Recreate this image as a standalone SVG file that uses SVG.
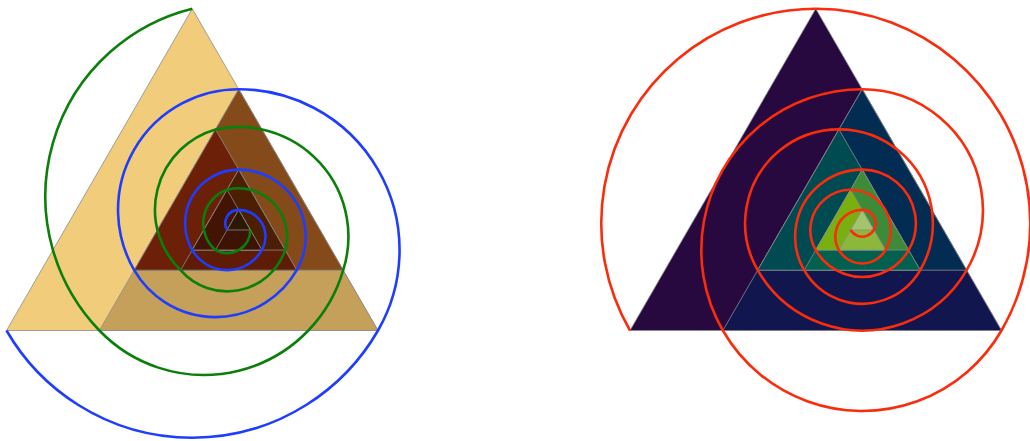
<svg xmlns="http://www.w3.org/2000/svg" width="1030" height="441" viewBox="0 0 1030 441">
<style>
  .tri { stroke: #8c8c8c; stroke-width: 0.8; stroke-linejoin: miter; }
  .sp { fill: none; stroke-width: 2.6; }
  .green { stroke: #0a7f0a; }
  .blue { stroke: #1f3dff; }
  .red { stroke: #fa2c0c; }
</style>
<rect width="1030" height="441" fill="#ffffff"/>
<g id="left-figure">
  <g id="left-triangles">
    <polygon id="L0" class="tri" fill="#f1cd7b" points="6.5,330.5 378,330.5 192.25,8.77"/>
    <polygon id="L1" class="tri" fill="#c5a05b" points="99.375,330.5 378,330.5 238.688,89.204"/>
    <polygon id="L2" class="tri" fill="#844a19" points="134.203,270.176 343.172,270.176 238.688,89.204"/>
    <polygon id="L3" class="tri" fill="#6b2007" points="134.203,270.176 296.734,270.176 215.469,129.420"/>
    <polygon id="L4" class="tri" fill="#5e1b05" points="180.641,270.176 296.734,270.176 238.688,169.636"/>
    <polygon id="L5" class="tri" fill="#4c1f03" points="192.25,250.068 285.125,250.068 238.688,169.636"/>
    <polygon id="L6" class="tri" fill="#431404" points="192.25,250.068 261.906,250.068 227.078,189.744"/>
    <polygon id="L7" class="tri" fill="#3d1403" points="215.469,250.068 261.906,250.068 238.688,209.852"/>
    <polygon id="L8" class="tri" fill="#2b1803" points="227.078,229.960 250.297,229.960 238.688,209.852"/>
  </g>
  <g id="left-spirals">
    <path id="green-spiral" class="sp green" d="M192.25,8.77 A193.34,193.34 0 0 0 99.375,330.5 A145.01,145.01 0 0 0 343.172,270.176 A109.73,109.73 0 0 0 215.469,129.420 A83.72,83.72 0 0 0 180.641,270.176 A61.43,61.43 0 0 0 285.125,250.068 A48.33,48.33 0 0 0 227.078,189.744 A35.47,35.47 0 0 0 215.469,250.068 A23.23,23.23 0 0 0 250.297,229.960"/>
    <path id="blue-spiral" class="sp blue" d="M6.5,330.5 A214.49,214.49 0 0 0 378,330.5 A160.87,160.87 0 0 0 238.688,89.204 A120.65,120.65 0 0 0 134.203,270.176 A93.84,93.84 0 0 0 296.734,270.176 A67.03,67.03 0 0 0 238.688,169.636 A53.63,53.63 0 0 0 192.25,250.068 A40.22,40.22 0 0 0 261.906,250.068 A26.82,26.82 0 0 0 238.688,209.852 A13.41,13.41 0 0 0 227.078,229.960"/>
  </g>
</g>
<g id="right-figure">
  <g id="right-triangles">
    <polygon id="R0" class="tri" fill="#27083f" points="630,330.5 1001.5,330.5 815.75,8.77"/>
    <polygon id="R1" class="tri" fill="#11164f" points="722.875,330.5 1001.5,330.5 862.188,89.204"/>
    <polygon id="R2" class="tri" fill="#022c52" points="757.703,270.176 966.672,270.176 862.188,89.204"/>
    <polygon id="R3" class="tri" fill="#004b51" points="757.703,270.176 920.234,270.176 838.969,129.420"/>
    <polygon id="R4" class="tri" fill="#02604f" points="804.141,270.176 920.234,270.176 862.188,169.636"/>
    <polygon id="R5" class="tri" fill="#3d8b38" points="815.75,250.068 908.625,250.068 862.188,169.636"/>
    <polygon id="R6" class="tri" fill="#79b00f" points="815.75,250.068 885.406,250.068 850.578,189.744"/>
    <polygon id="R7" class="tri" fill="#8bb83b" points="838.969,250.068 885.406,250.068 862.188,209.852"/>
    <polygon id="R8" class="tri" fill="#a4c46b" points="850.578,229.960 873.797,229.960 862.188,209.852"/>
  </g>
  <g id="right-spirals">
    <path id="red-spiral" class="sp red" d="M630,330.5 A214.49,214.49 0 1 1 1001.5,330.5 A160.87,160.87 0 1 1 862.188,89.204 A120.65,120.65 0 1 1 757.703,270.176 A93.84,93.84 0 1 1 920.234,270.176 A67.03,67.03 0 1 1 862.188,169.636 A53.63,53.63 0 1 1 815.75,250.068 A40.22,40.22 0 1 1 885.406,250.068 A26.82,26.82 0 1 1 862.188,209.852 A13.41,13.41 0 1 1 850.578,229.960"/>
  </g>
</g>
</svg>
